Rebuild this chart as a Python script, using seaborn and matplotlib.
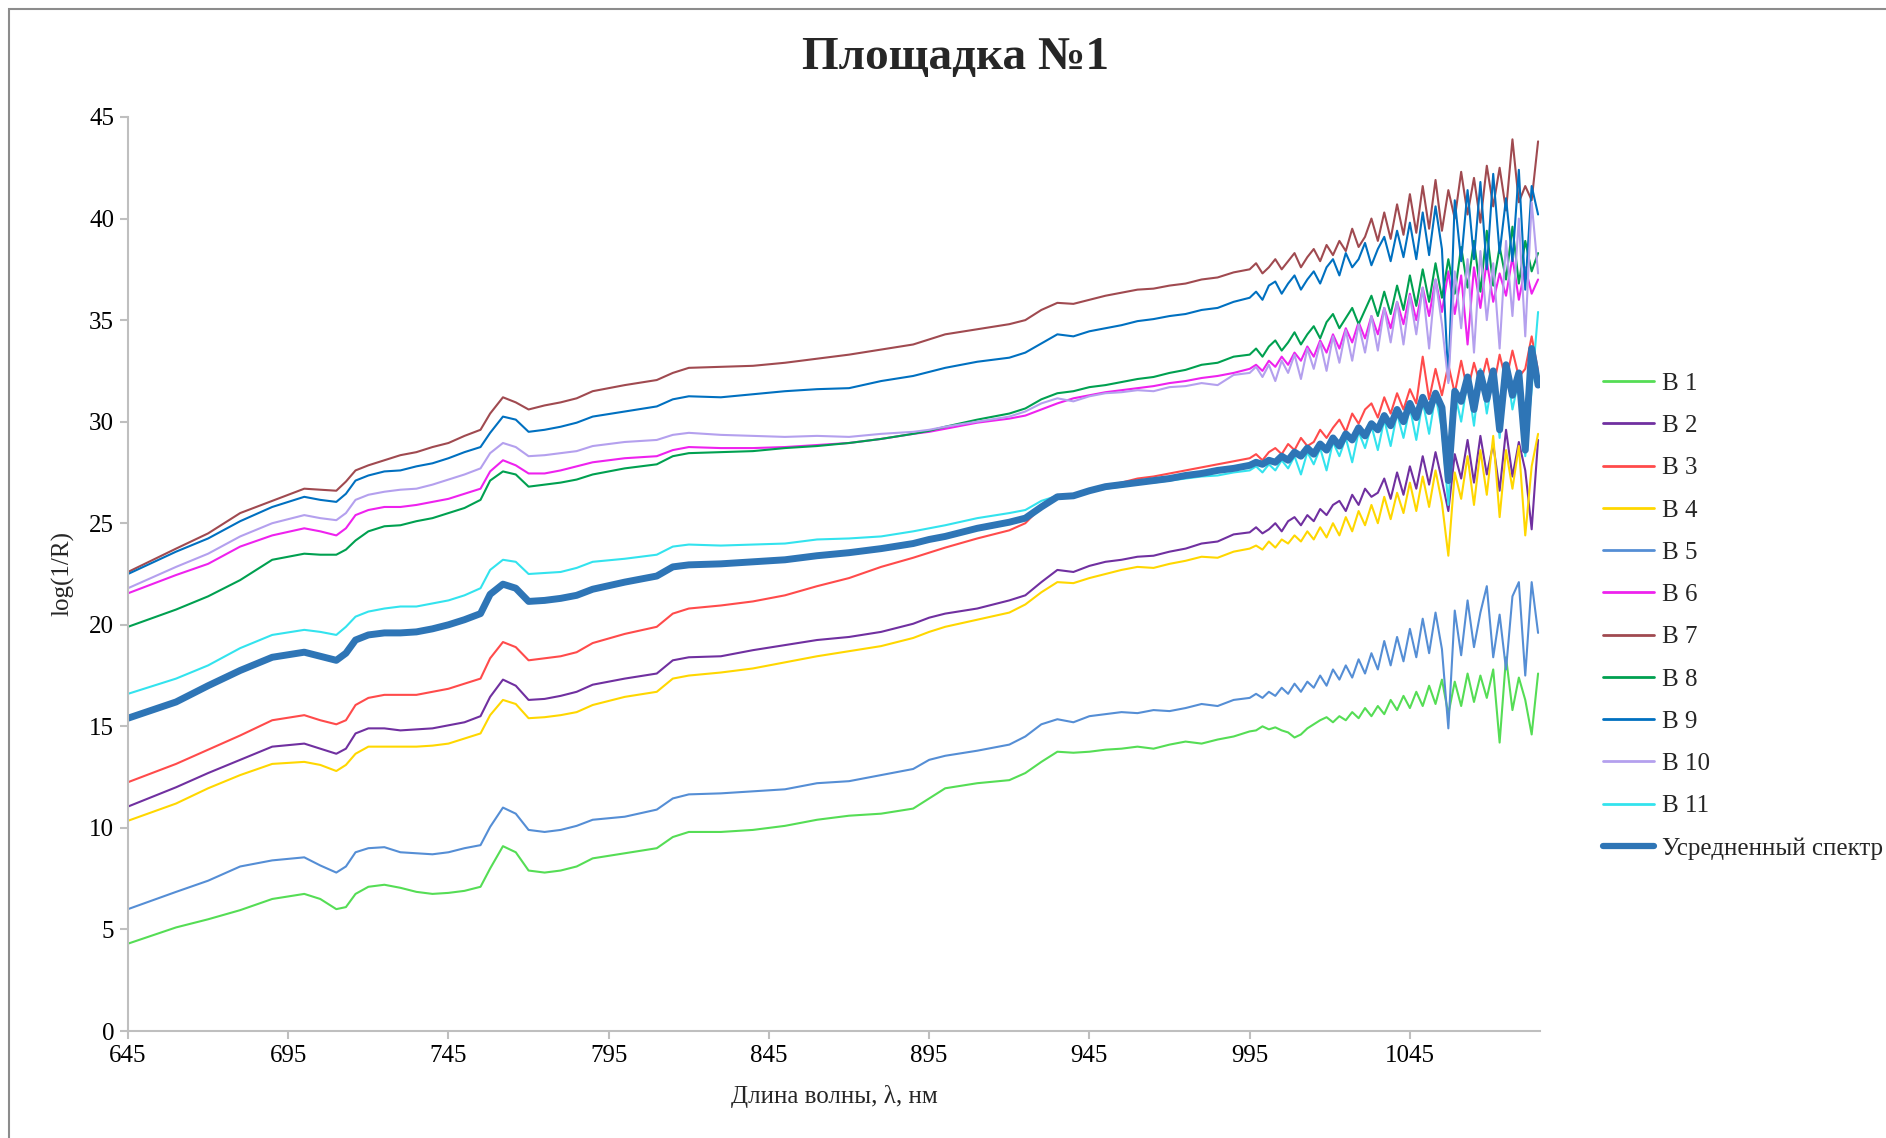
import matplotlib
matplotlib.use("Agg")
import matplotlib.pyplot as plt
from matplotlib.lines import Line2D
from matplotlib.patches import Rectangle
import pandas as pd
import seaborn as sns

# Wavelength grid, nm
wavelength = ([645, 660, 670, 680, 690, 700, 705, 710, 713, 716,
               720, 725, 730, 735, 740, 745, 750, 755, 758, 762,
               766, 770, 775, 780, 785, 790, 800, 810, 815, 820,
               830, 840, 850, 860, 870, 880, 890, 895, 900, 910,
               920, 925, 930, 935, 940,
               945, 950, 955, 960, 965, 970, 975, 980, 985, 990, 995]
              + list(range(997, 1086, 2)))

# log(1/R) spectra of the individual samples
b1 = [4.3, 5.1, 5.5, 5.95, 6.5, 6.75, 6.5, 6.0, 6.1, 6.75,
      7.1, 7.2, 7.05, 6.85, 6.75, 6.8, 6.9, 7.1, 8.0, 9.1,
      8.8, 7.9, 7.8, 7.9, 8.1, 8.5, 8.75, 9.0, 9.55, 9.8,
      9.8, 9.9, 10.1, 10.4, 10.6, 10.7, 10.95, 11.45, 11.95, 12.2,
      12.35, 12.7, 13.25, 13.75, 13.7,
      13.75, 13.85, 13.9, 14.0, 13.9, 14.1, 14.25, 14.15, 14.35, 14.5, 14.75,
      14.8, 15.0, 14.85, 14.95, 14.8, 14.7, 14.45, 14.6, 14.9, 15.1,
      15.3, 15.45, 15.2, 15.5, 15.3, 15.7, 15.4, 15.9, 15.5, 16.0,
      15.6, 16.3, 15.8, 16.5, 15.9, 16.7, 16.0, 17.0, 16.1, 17.3,
      15.6, 17.2, 16.0, 17.6, 16.2, 17.5, 16.4, 17.8, 14.2, 18.4,
      15.8, 17.4, 16.3, 14.6, 17.6]

b2 = [11.05, 12.0, 12.7, 13.35, 14.0, 14.15, 13.9, 13.65, 13.9, 14.65,
      14.9, 14.9, 14.8, 14.85, 14.9, 15.05, 15.2, 15.5, 16.45, 17.3,
      17.0, 16.3, 16.35, 16.5, 16.7, 17.05, 17.35, 17.6, 18.25, 18.4,
      18.45, 18.75, 19.0, 19.25, 19.4, 19.65, 20.05, 20.35, 20.55, 20.8,
      21.2, 21.45, 22.1, 22.7, 22.6,
      22.9, 23.1, 23.2, 23.35, 23.4, 23.6, 23.75, 24.0, 24.1, 24.45, 24.55,
      24.8, 24.5, 24.7, 25.0, 24.6, 25.1, 25.3, 24.9, 25.4, 25.1,
      25.7, 25.4, 25.9, 26.1, 25.6, 26.4, 25.9, 26.7, 26.3, 26.5,
      27.2, 26.2, 27.5, 26.4, 27.8, 26.7, 28.3, 26.9, 28.5, 27.1,
      25.6, 28.4, 27.2, 29.1, 27.0, 29.3, 27.4, 28.9, 26.6, 29.6,
      27.3, 29.0, 27.6, 24.7, 29.1]

b3 = [12.25, 13.15, 13.85, 14.55, 15.3, 15.55, 15.3, 15.1, 15.3, 16.05,
      16.4, 16.55, 16.55, 16.55, 16.7, 16.85, 17.1, 17.35, 18.35, 19.15,
      18.9, 18.25, 18.35, 18.45, 18.65, 19.1, 19.55, 19.9, 20.55, 20.8,
      20.95, 21.15, 21.45, 21.9, 22.3, 22.85, 23.3, 23.55, 23.8, 24.25,
      24.65, 25.0, 25.8, 26.3, 26.3,
      26.6, 26.85, 27.0, 27.2, 27.3, 27.45, 27.6, 27.75, 27.9, 28.05, 28.2,
      28.4, 28.1, 28.5, 28.7, 28.4, 28.9, 28.6, 29.2, 28.8, 29.0,
      29.6, 29.2, 29.7, 30.1, 29.5, 30.4, 29.9, 30.6, 30.9, 30.2,
      31.2, 30.4, 31.4, 30.6, 31.6, 30.9, 33.2, 31.1, 32.6, 31.3,
      32.8, 31.4, 33.0, 31.5, 32.9, 31.8, 33.1, 31.6, 33.3, 32.0,
      33.5, 32.2, 32.6, 34.2, 32.5]

b4 = [10.35, 11.2, 11.95, 12.6, 13.15, 13.25, 13.1, 12.8, 13.1, 13.65,
      14.0, 14.0, 14.0, 14.0, 14.05, 14.15, 14.4, 14.65, 15.55, 16.3,
      16.1, 15.4, 15.45, 15.55, 15.7, 16.05, 16.45, 16.7, 17.35, 17.5,
      17.65, 17.85, 18.15, 18.45, 18.7, 18.95, 19.35, 19.65, 19.9, 20.25,
      20.6, 21.0, 21.6, 22.1, 22.05,
      22.3, 22.5, 22.7, 22.85, 22.8, 23.0, 23.15, 23.35, 23.3, 23.6, 23.75,
      23.9, 23.7, 24.1, 23.8, 24.2, 24.0, 24.4, 24.1, 24.6, 24.2,
      24.8, 24.3, 25.0, 24.4, 25.3, 24.6, 25.6, 24.9, 25.9, 25.0,
      26.3, 25.2, 26.5, 25.5, 27.0, 25.6, 27.3, 25.8, 27.6, 26.0,
      23.4, 27.5, 26.2, 28.3, 25.9, 28.6, 26.4, 29.3, 25.3, 28.6,
      26.7, 28.8, 24.4, 27.8, 29.4]

b5 = [6.0, 6.85, 7.4, 8.1, 8.4, 8.55, 8.15, 7.8, 8.1, 8.8,
      9.0, 9.05, 8.8, 8.75, 8.7, 8.8, 9.0, 9.15, 10.05, 11.0,
      10.7, 9.9, 9.8, 9.9, 10.1, 10.4, 10.55, 10.9, 11.45, 11.65,
      11.7, 11.8, 11.9, 12.2, 12.3, 12.6, 12.9, 13.35, 13.55, 13.8,
      14.1, 14.5, 15.1, 15.35, 15.2,
      15.5, 15.6, 15.7, 15.65, 15.8, 15.75, 15.9, 16.1, 16.0, 16.3, 16.4,
      16.6, 16.4, 16.7, 16.5, 16.9, 16.6, 17.1, 16.7, 17.2, 16.9,
      17.5, 17.0, 17.8, 17.3, 18.0, 17.4, 18.3, 17.6, 18.6, 17.8,
      19.2, 18.0, 19.4, 18.2, 19.8, 18.4, 20.3, 18.6, 20.6, 18.8,
      14.9, 20.7, 18.5, 21.2, 18.9, 20.6, 21.9, 18.4, 20.5, 17.8,
      21.4, 22.1, 17.5, 22.1, 19.6]

b6 = [21.55, 22.45, 23.0, 23.85, 24.4, 24.75, 24.6, 24.4, 24.75, 25.4,
      25.65, 25.8, 25.8, 25.9, 26.05, 26.2, 26.45, 26.7, 27.55, 28.1,
      27.85, 27.45, 27.45, 27.6, 27.8, 28.0, 28.2, 28.3, 28.6, 28.75,
      28.7, 28.7, 28.75, 28.85, 28.95, 29.15, 29.4, 29.5, 29.65, 29.95,
      30.15, 30.3, 30.6, 30.9, 31.15,
      31.3, 31.45, 31.55, 31.65, 31.75, 31.9, 32.0, 32.15, 32.25, 32.4, 32.6,
      32.8, 32.5, 33.0, 32.7, 33.2, 32.8, 33.4, 33.0, 33.7, 33.2,
      34.0, 33.4, 34.3, 33.6, 34.6, 33.9, 34.9, 34.1, 35.2, 34.3,
      35.6, 34.6, 35.9, 34.8, 36.3, 35.0, 36.6, 35.2, 37.0, 35.4,
      37.4, 35.3, 37.2, 33.8, 37.6, 35.6, 37.9, 35.9, 37.3, 36.2,
      38.1, 36.0, 37.6, 36.3, 37.0]

b7 = [22.6, 23.75, 24.5, 25.5, 26.1, 26.7, 26.65, 26.6, 27.05, 27.6,
      27.85, 28.1, 28.35, 28.5, 28.75, 28.95, 29.3, 29.6, 30.4, 31.2,
      30.95, 30.6, 30.8, 30.95, 31.15, 31.5, 31.8, 32.05, 32.4, 32.65,
      32.7, 32.75, 32.9, 33.1, 33.3, 33.55, 33.8, 34.05, 34.3, 34.55,
      34.8, 35.0, 35.5, 35.85, 35.8,
      36.0, 36.2, 36.35, 36.5, 36.55, 36.7, 36.8, 37.0, 37.1, 37.35, 37.5,
      37.8, 37.3, 37.6, 38.0, 37.5, 37.9, 38.3, 37.6, 38.1, 38.5,
      37.9, 38.7, 38.2, 38.9, 38.4, 39.5, 38.6, 39.1, 40.0, 38.9,
      40.3, 39.0, 40.7, 39.2, 41.2, 39.3, 41.6, 39.5, 41.9, 39.4,
      41.4, 40.0, 42.3, 40.2, 42.0, 39.8, 42.6, 40.6, 42.5, 40.4,
      43.9, 40.8, 41.6, 40.9, 43.8]

b8 = [19.9, 20.75, 21.4, 22.2, 23.2, 23.5, 23.45, 23.45, 23.7, 24.15,
      24.6, 24.85, 24.9, 25.1, 25.25, 25.5, 25.75, 26.15, 27.1, 27.55,
      27.4, 26.8, 26.9, 27.0, 27.15, 27.4, 27.7, 27.9, 28.3, 28.45,
      28.5, 28.55, 28.7, 28.8, 28.95, 29.15, 29.4, 29.55, 29.75, 30.1,
      30.4, 30.65, 31.1, 31.4, 31.5,
      31.7, 31.8, 31.95, 32.1, 32.2, 32.4, 32.55, 32.8, 32.9, 33.2, 33.3,
      33.6, 33.2, 33.7, 34.0, 33.5, 33.9, 34.4, 33.8, 34.3, 34.7,
      34.1, 34.9, 35.3, 34.6, 35.1, 35.6, 34.8, 35.5, 36.2, 35.2,
      36.4, 35.3, 36.7, 35.5, 37.2, 35.7, 37.5, 35.9, 37.8, 36.1,
      38.0, 36.3, 38.6, 36.6, 38.9, 36.4, 39.4, 36.7, 38.6, 37.0,
      39.6, 36.8, 38.9, 37.4, 38.3]

b9 = [22.5, 23.6, 24.25, 25.1, 25.8, 26.3, 26.15, 26.05, 26.45, 27.1,
      27.35, 27.55, 27.6, 27.8, 27.95, 28.2, 28.5, 28.75, 29.45, 30.25,
      30.1, 29.5, 29.6, 29.75, 29.95, 30.25, 30.5, 30.75, 31.1, 31.25,
      31.2, 31.35, 31.5, 31.6, 31.65, 32.0, 32.25, 32.45, 32.65, 32.95,
      33.15, 33.4, 33.85, 34.3, 34.2,
      34.45, 34.6, 34.75, 34.95, 35.05, 35.2, 35.3, 35.5, 35.6, 35.9, 36.1,
      36.4, 36.0, 36.7, 36.9, 36.3, 36.8, 37.2, 36.5, 37.0, 37.4,
      36.8, 37.6, 38.0, 37.2, 38.3, 37.6, 38.0, 38.8, 37.7, 38.5,
      39.1, 37.9, 39.4, 38.1, 39.8, 38.0, 40.3, 38.2, 40.6, 38.5,
      32.0, 40.9, 37.9, 41.4, 38.0, 41.8, 37.5, 42.2, 38.3, 41.0,
      37.9, 42.4, 36.5, 41.6, 40.2]

b10 = [21.8, 22.85, 23.5, 24.35, 25.0, 25.4, 25.25, 25.15, 25.5, 26.15,
       26.4, 26.55, 26.65, 26.7, 26.9, 27.15, 27.4, 27.7, 28.45, 28.95,
       28.75, 28.3, 28.35, 28.45, 28.55, 28.8, 29.0, 29.1, 29.35, 29.45,
       29.35, 29.3, 29.25, 29.3, 29.25, 29.4, 29.5, 29.6, 29.75, 30.0,
       30.25, 30.5, 30.9, 31.15, 31.0,
       31.25, 31.4, 31.45, 31.55, 31.5, 31.7, 31.75, 31.9, 31.8, 32.3, 32.4,
       32.7, 32.2, 32.8, 32.0, 33.0, 32.4, 33.3, 32.1, 33.6, 32.6,
       33.9, 32.5, 34.2, 32.9, 34.5, 33.0, 34.8, 33.4, 35.2, 33.5,
       35.6, 33.9, 35.9, 33.8, 36.2, 34.3, 36.6, 33.6, 37.0, 34.8,
       31.9, 37.4, 34.6, 38.0, 33.4, 38.4, 35.0, 37.8, 33.6, 38.9,
       35.2, 40.0, 34.2, 40.8, 37.3]

b11 = [16.6, 17.35, 18.0, 18.85, 19.5, 19.75, 19.65, 19.5, 19.9, 20.4,
       20.65, 20.8, 20.9, 20.9, 21.05, 21.2, 21.45, 21.8, 22.7, 23.2,
       23.1, 22.5, 22.55, 22.6, 22.8, 23.1, 23.25, 23.45, 23.85, 23.95,
       23.9, 23.95, 24.0, 24.2, 24.25, 24.35, 24.6, 24.75, 24.9, 25.25,
       25.5, 25.65, 26.1, 26.35, 26.35,
       26.55, 26.7, 26.8, 26.95, 27.0, 27.1, 27.2, 27.3, 27.35, 27.5, 27.6,
       27.8, 27.5, 27.9, 27.6, 28.1, 27.7, 28.3, 27.4, 28.5, 27.9,
       28.7, 27.6, 29.0, 28.3, 29.2, 28.0, 29.5, 28.7, 29.8, 28.6,
       30.1, 28.8, 30.4, 29.2, 30.7, 29.1, 31.0, 29.4, 31.3, 29.6,
       25.9, 31.4, 30.0, 32.0, 29.8, 32.6, 30.4, 32.3, 29.2, 32.9,
       30.6, 32.1, 28.3, 31.6, 35.4]

# Averaged spectrum
average = [15.4, 16.2, 17.0, 17.75, 18.4, 18.65, 18.45, 18.25, 18.6, 19.25,
           19.5, 19.6, 19.6, 19.65, 19.8, 20.0, 20.25, 20.55, 21.5, 22.0,
           21.8, 21.15, 21.2, 21.3, 21.45, 21.75, 22.1, 22.4, 22.85, 22.95,
           23.0, 23.1, 23.2, 23.4, 23.55, 23.75, 24.0, 24.2, 24.35, 24.75,
           25.05, 25.25, 25.8, 26.3, 26.35,
           26.6, 26.8, 26.9, 27.0, 27.1, 27.2, 27.35, 27.45, 27.6, 27.7, 27.85,
           28.0, 27.9, 28.1, 28.0, 28.3, 28.1, 28.5, 28.3, 28.7, 28.4,
           28.9, 28.6, 29.2, 28.8, 29.4, 29.1, 29.7, 29.3, 29.9, 29.6,
           30.3, 29.8, 30.6, 30.0, 30.9, 30.2, 31.2, 30.5, 31.4, 30.7,
           27.1, 31.5, 31.0, 32.2, 30.6, 32.4, 31.1, 32.5, 29.6, 32.8,
           31.3, 32.4, 28.6, 33.6, 31.8]

sample_names = ["В 1", "В 2", "В 3", "В 4", "В 5", "В 6",
                "В 7", "В 8", "В 9", "В 10", "В 11"]
sample_values = [b1, b2, b3, b4, b5, b6, b7, b8, b9, b10, b11]
sample_colors = ["#55DD55", "#7030A0", "#FF4B4B", "#FFD700", "#558ED5", "#EE22EE",
                 "#A04A50", "#00A050", "#0070C0", "#B4A0EE", "#33E3EE"]
average_name = "Усредненный спектр"
average_color = "#2E75B6"

xticks = [645, 695, 745, 795, 845, 895, 945, 995, 1045]
yticks = [0, 5, 10, 15, 20, 25, 30, 35, 40, 45]

frames = [pd.DataFrame({"wl": wavelength, "val": v, "series": n})
          for n, v in zip(sample_names, sample_values)]
samples = pd.concat(frames, ignore_index=True)
avg_df = pd.DataFrame({"wl": wavelength, "val": average})

sns.set_theme(style="white")
plt.rcParams["font.family"] = ["Liberation Serif", "DejaVu Serif"]

W, H = 1886, 1138
fig = plt.figure(figsize=(W / 100, H / 100), dpi=100)
fig.patch.set_facecolor("white")
ax = fig.add_axes([128 / W, 1 - 1031 / H, (1540 - 128) / W, (1031 - 117) / H])

palette = dict(zip(sample_names, sample_colors))
sns.lineplot(data=samples, x="wl", y="val", hue="series", hue_order=sample_names,
             palette=palette, estimator=None, sort=False, linewidth=1.5,
             legend=False, ax=ax)
sns.lineplot(data=avg_df, x="wl", y="val", color=average_color, estimator=None,
             sort=False, linewidth=5, legend=False, ax=ax)

ax.set_xlim(645, 1085.6)
ax.set_ylim(0, 45)
ax.set_xticks(xticks)
ax.set_yticks(yticks)
ax.set_xlabel("")
ax.set_ylabel("")
for side in ("top", "right"):
    ax.spines[side].set_visible(False)
for side in ("left", "bottom"):
    ax.spines[side].set_color("#BFBFBF")
    ax.spines[side].set_linewidth(1.5)
ax.tick_params(bottom=True, left=True, direction="out", length=6, width=1.5,
               color="#BFBFBF", labelsize=18, labelcolor="black", pad=4)

fig.text(956 / W, 1 - 58 / H, "Площадка №1", ha="center", va="center",
         fontsize=34, fontweight="bold")
fig.text(834 / W, 1 - 1097 / H, "Длина волны, λ, нм", ha="center", va="center",
         fontsize=18)
fig.text(63 / W, 1 - 574 / H, "log(1/R)", ha="center", va="center",
         rotation=90, fontsize=18)

handles = [Line2D([], [], color=c, linewidth=2) for c in sample_colors]
handles.append(Line2D([], [], color=average_color, linewidth=4.5))
labels = sample_names + [average_name]
ax.legend(handles, labels, loc="center left",
          bbox_to_anchor=(1603 / W, 1 - 616 / H), bbox_transform=fig.transFigure,
          frameon=False, fontsize=18, handlelength=2.05, handletextpad=0.3,
          labelspacing=0.79, borderpad=0, borderaxespad=0)

# Chart area outline (only the top and left edges fall inside the image)
fig.patches.append(Rectangle((9 / W, -0.1), 1.2, 1.1 - 9 / H,
                             transform=fig.transFigure, fill=False,
                             edgecolor="#8C8C8C", linewidth=1.5))

fig.savefig("out.png", dpi=100)
